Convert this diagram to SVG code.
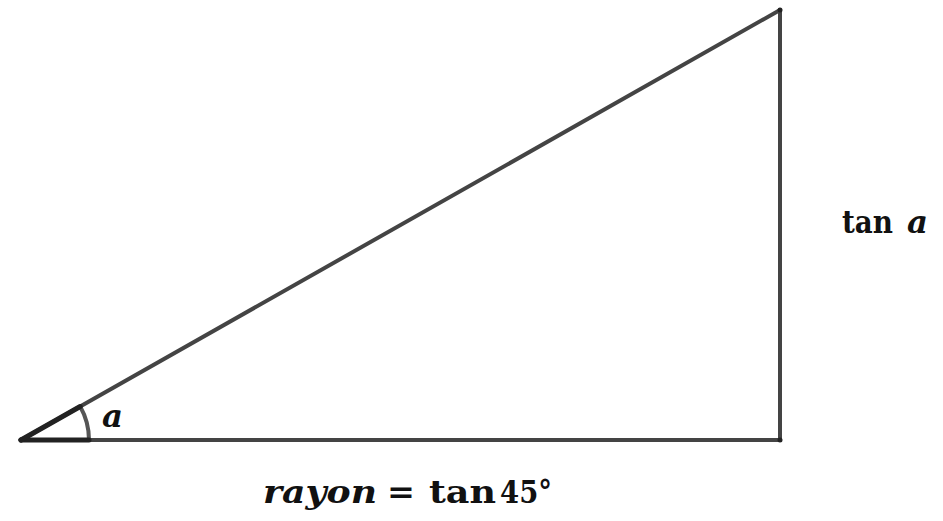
<svg xmlns="http://www.w3.org/2000/svg" width="943" height="521" viewBox="0 0 943 521">
<style>
.edge{stroke:#444;stroke-width:4;fill:none;stroke-linecap:round}
.ang{stroke:#222;stroke-width:5;fill:none;stroke-linecap:round}
.arc{stroke:#555;stroke-width:4;fill:none}
.t{font-family:"DejaVu Serif","Liberation Serif",serif;font-weight:bold;fill:#111;font-size:31px}
.i{font-style:italic}
.pt{fill:#222}
</style>
<rect width="943" height="521" fill="#fff"/>
<g id="connectors">
<line class="edge" x1="21" y1="440" x2="780" y2="440"/>
<line class="edge" x1="780" y1="440" x2="780" y2="10"/>
<line class="edge" x1="21" y1="440" x2="780" y2="10"/>
</g>
<g id="angle">
<path class="arc" d="M89 440 A68 68 0 0 0 80.2 406.5"/>
<line class="ang" x1="21" y1="440" x2="89" y2="440"/>
<line class="ang" x1="21" y1="440" x2="80.2" y2="406.5"/>
<text class="t i" x="102" y="427" textLength="21" lengthAdjust="spacingAndGlyphs">a</text>
</g>
<g id="vertices">
<circle class="pt" cx="21" cy="440" r="2.5"/>
<circle class="pt" cx="780" cy="440" r="2.5"/>
<circle class="pt" cx="780" cy="10" r="2.5"/>
</g>
<g id="label-tan">
<text class="t" x="842" y="233" textLength="51" lengthAdjust="spacingAndGlyphs">tan</text>
<text class="t i" x="907" y="233" textLength="21" lengthAdjust="spacingAndGlyphs">a</text>
</g>
<g id="label-rayon">
<text class="t i" x="263" y="503" textLength="114" lengthAdjust="spacingAndGlyphs">rayon</text>
<text class="t" x="387" y="503" textLength="28" lengthAdjust="spacingAndGlyphs">=</text>
<text class="t" x="429" y="503" textLength="67" lengthAdjust="spacingAndGlyphs">tan</text>
<text class="t" x="500" y="503" textLength="52" lengthAdjust="spacingAndGlyphs">45°</text>
</g>
</svg>
